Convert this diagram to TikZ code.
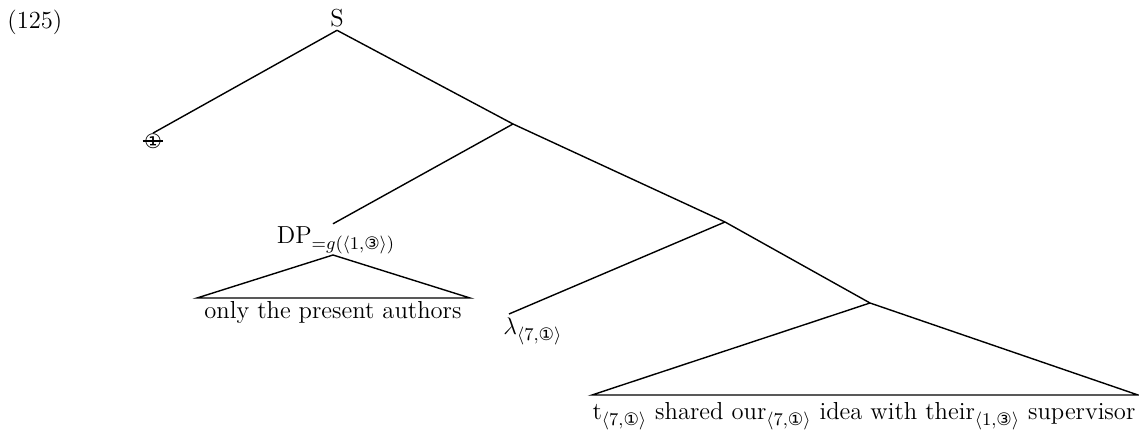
\documentclass[tikz,border=0pt]{standalone}
\usepackage{amsmath}
\usepackage{fontspec}
\newfontfamily\circfont{DejaVu Sans}
\usetikzlibrary{positioning}
\newcommand{\cn}[1]{\text{\circfont #1}}
\newcommand{\idx}[2]{_{\langle #1,#2\rangle}}

\begin{document}
\begin{tikzpicture}[
    x=0.5pt, y=-0.5pt,
    lbl/.style={inner sep=1.5pt, font=\fontsize{12.3}{14}\selectfont},
    branch/.style={line width=0.7pt},
    roof/.style={line width=0.7pt, line join=miter}
  ]
    \useasboundingbox (0,0) rectangle (1139,431);

    \node[lbl, anchor=base west] (ex) at (4,29) {(125)};
    \node[lbl] (s) at (337,18) {S};

    % inner branching points
    \coordinate (n1) at (513,124);
    \coordinate (n2) at (725,222);
    \coordinate (n3) at (870,303);

    \node[inner sep=0pt, font=\circfont\fontsize{10}{12}\selectfont] (pro) at (153,141) {①};
    \draw[line width=0.6pt] ([xshift=-0.5pt]pro.west) -- ([xshift=0.5pt]pro.east);

    \node[lbl, anchor=base] (dp) at (336,244) {$\mathrm{DP}_{=g(\langle 1,\cn{③}\rangle)}$};
    \coordinate (dproof) at (333,255);
    \node[lbl, anchor=base] (dptxt) at (333,319) {only the present authors};

    \node[lbl, anchor=base west] (lam) at (500,335) {$\lambda\idx{7}{\cn{①}}$};
    \coordinate (lamtop) at (509,314);

    \node[lbl, anchor=base] (vp) at (864,420) {t$\idx{7}{\cn{①}}$ shared our$\idx{7}{\cn{①}}$ idea with their$\idx{1}{\cn{③}}$ supervisor};

    \draw[branch] (s.south) -- (pro.north);
    \draw[branch] (s.south) -- (n1);
    \draw[branch] (n1) -- (dp.north west -| dproof);
    \draw[branch] (n1) -- (n2);
    \draw[branch] (n2) -- (lamtop);
    \draw[branch] (n2) -- (n3);

    \draw[roof] (dproof) -- (197,298) -- (470,298) -- cycle;
    \draw[roof] (n3) -- (592,395) -- (1138,395) -- cycle;
  \end{tikzpicture}
\end{document}
